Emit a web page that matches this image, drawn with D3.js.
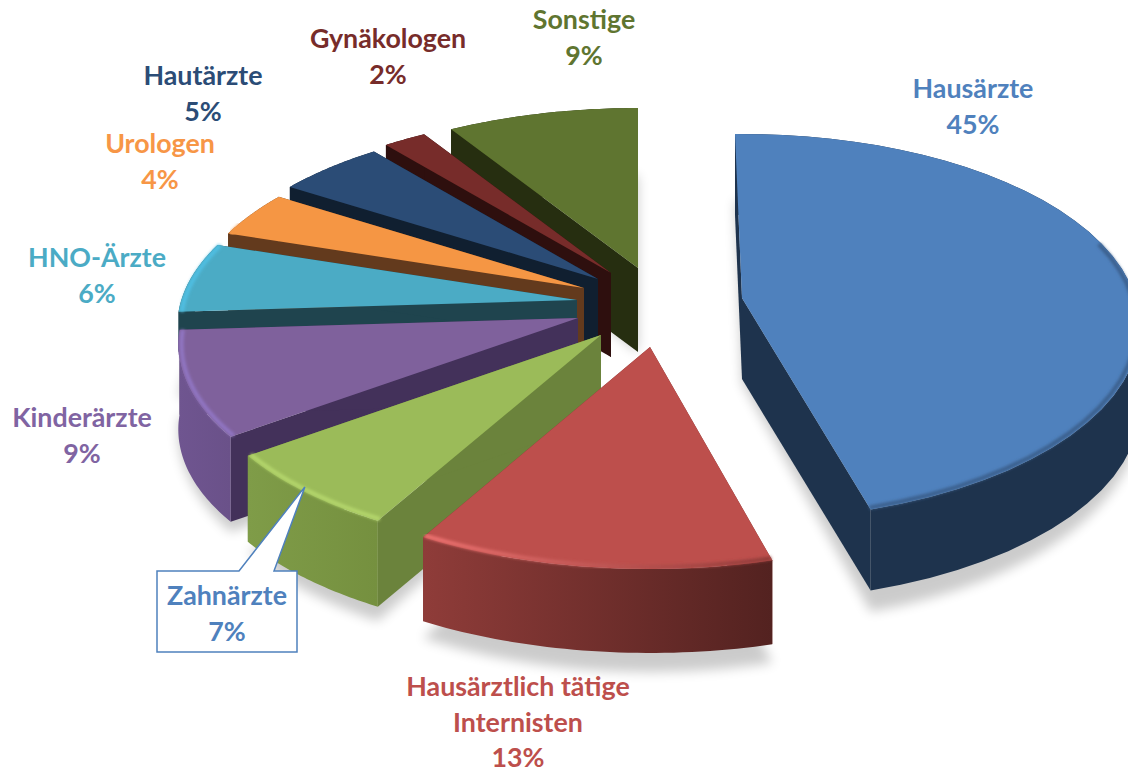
<!DOCTYPE html>
<html lang="de">
<head>
<meta charset="UTF-8"/>
<title>Arztgruppen</title>
<script src="https://d3js.org/d3.v7.min.js"></script>
<style>
	html, body { margin: 0; padding: 0; background: #fff; overflow: hidden; }
	text { font-family: Lato, "Open Sans", sans-serif; font-weight: 700; font-size: 26.8px; }
</style>
</head>
<body>
<script>
	// data, clockwise from twelve o'clock
	var categories = ["Hausärzte", "Hausärztlich tätige\nInternisten", "Zahnärzte", "Kinderärzte", "HNO-Ärzte", "Urologen", "Hautärzte", "Gynäkologen", "Sonstige"];
	var shares = [45, 13, 7, 9, 6, 4, 5, 2, 9];

	// colours
	var topColors = ["#4f81bd", "#bd4f4c", "#9bbb59", "#7f619c", "#4babc5", "#f59644", "#2b4c76", "#772c2a", "#5f7530"];
	var cutColors = ["#1e334d", "#7a3331", "#6b833c", "#43315a", "#1f444e", "#633a1d", "#101f30", "#2e0f0e", "#262e10"];
	var wallLeft = ["#1e334d", "#8f3c39", "#7f9c48", "#6f5590", "#1f444e", "#633a1d", "#101f30", "#2e0f0e", "#262e10"];
	var wallRight = ["#1e334d", "#532220", "#75903f", "#6a5189", "#1f444e", "#633a1d", "#101f30", "#2e0f0e", "#262e10"];
	var rimLeft = ["#3a5f8c", "#f07472", "#b4d66c", "#9176c4", "#4fbfe3", "#f59644", "#2b4c76", "#772c2a", "#5f7530"];
	var rimRight = ["#3a5f8c", "#8f3a38", "#b4d66c", "#9176c4", "#4fbfe3", "#f59644", "#2b4c76", "#772c2a", "#5f7530"];
	var labelColors = ["#4f81bd", "#bd4f4c", "#4f81bd", "#8064a2", "#4babc5", "#f79646", "#2b4c76", "#772c2a", "#5f7530"];

	// layout of the exploded slices, in pixels from the pie centre
	var explodeX = [142, 50, 1, -22, -23, -16, -2, 11, 38];
	var explodeY = [-2, 47, 35, 18, 0, -12, -21, -27, -32];
	var radiusScale = [1, 1, 0.98, 0.965, 0.965, 0.955, 0.965, 0.97, 0.97];
	var widthScale = [0.96, 1, 1, 1, 1, 1, 1, 1, 1];
	var startNudge = [-1.2, 2.9, 0.7, 0, 0, 0, 0, 0, 0];
	var endNudge = [1.4, 0.5, 0, 0, 0, 0, 0, 0, 0];
	var wallDepth = [81, 84, 86, 85, 40, 84, 84, 84, 84];
	var labelX = [973, 518, 227, 82, 97, 160, 203, 388, 584];
	var labelY = [89, 687, 596, 418, 258, 144, 76, 39, 20];

	var w = 1128, h = 772;
	var cx = 600, cy = 300;
	var radius = 410, flat = 193, persp = 0.15;

	var xScale = d3.scaleLinear().domain([-1, 1]).range([-radius, radius]);
	var yScale = d3.scaleLinear().domain([-1, 1]).range([-flat, flat]);

	var svg = d3.select("body").append("svg").attr("width", w).attr("height", h);
	var defs = svg.append("defs");

	defs.append("filter").attr("id", "shadow").attr("x", "-20%").attr("y", "-20%").attr("width", "140%").attr("height", "140%")
		.append("feGaussianBlur").attr("stdDeviation", 6);
	defs.append("filter").attr("id", "soft").attr("x", "-5%").attr("y", "-5%").attr("width", "110%").attr("height", "110%")
		.append("feGaussianBlur").attr("stdDeviation", 1.4);

	var slices = d3.pie().value(function(d) { return d; }).sort(null)(shares);

	// plane position on the tilted disc with a little perspective, angle clockwise from the top
	function project(i, angle, r) {
		var u = Math.sin(angle) * r * radiusScale[i], v = -Math.cos(angle) * r * radiusScale[i];
		var s = 1 + persp * v;
		return [cx + explodeX[i] + xScale(u * s * widthScale[i]), cy + explodeY[i] + yScale(v * s), v];
	}

	function rimAngles(i) {
		var a0 = slices[i].startAngle + startNudge[i] * Math.PI / 180;
		var a1 = slices[i].endAngle + endNudge[i] * Math.PI / 180;
		return d3.range(0, 41).map(function(k) { return a0 + (a1 - a0) * k / 40; });
	}

	var openLine = d3.line();
	var polygon = d3.line().curve(d3.curveLinearClosed);

	function down(p, dy) { return [p[0], p[1] + dy]; }

	// soft floor shadow first
	var shadow = svg.append("g").attr("filter", "url(#shadow)").attr("opacity", 0.2);
	slices.forEach(function(d, i) {
		var rim = rimAngles(i).map(function(a) { return project(i, a, 1); });
		var apex = project(i, 0, 0);
		var pts = [apex].concat(rim).map(function(p) { return down(p, 85 + 18 * p[2]); });
		shadow.append("path").attr("d", polygon(pts)).attr("fill", "#000");
	});

	function addGradient(id, rim, from, to) {
		var grad = defs.append("linearGradient").attr("id", id)
			.attr("gradientUnits", "userSpaceOnUse")
			.attr("x1", d3.min(rim, function(p) { return p[0]; })).attr("y1", 0)
			.attr("x2", d3.max(rim, function(p) { return p[0]; })).attr("y2", 0);
		grad.append("stop").attr("offset", 0).attr("stop-color", from);
		grad.append("stop").attr("offset", 1).attr("stop-color", to);
	}

	// back to front, so nearer slices cover the walls of the ones behind
	var order = [0, 8, 7, 6, 5, 4, 3, 2, 1];
	order.forEach(function(i) {
		var rim = rimAngles(i).map(function(a) { return project(i, a, 1); });
		var apex = project(i, 0, 0);
		var first = rim[0], last = rim[rim.length - 1];
		var depth = wallDepth[i];
		var g = svg.append("g");

		addGradient("wall" + i, rim, wallLeft[i], wallRight[i]);
		addGradient("rim" + i, rim, rimLeft[i], rimRight[i]);

		// both cut faces
		[first, last].forEach(function(p) {
			g.append("path").attr("d", polygon([apex, p, down(p, depth), down(apex, depth)]))
				.attr("fill", cutColors[i]);
		});
		// outer wall
		var bottom = rim.map(function(p) { return down(p, depth); }).reverse();
		g.append("path").attr("d", polygon(rim.concat(bottom))).attr("fill", "url(#wall" + i + ")");
		// top face
		g.append("path").attr("d", polygon([apex].concat(rim))).attr("fill", topColors[i]);
		// bevel along the front of the rim, just inside the top face
		var inner = rimAngles(i).map(function(a) { return project(i, a, 0.992); })
			.filter(function(p) { return p[2] > -0.35; });
		if (inner.length > 1) {
			g.append("path").attr("d", openLine(inner)).attr("fill", "none")
				.attr("stroke", "url(#rim" + i + ")").attr("stroke-width", 4)
				.attr("filter", "url(#soft)");
		}
	});

	// callout for Zahnärzte
	var pointer = project(2, (slices[2].startAngle + slices[2].endAngle) / 2 + 0.02, 0.985);
	var callout = [[157, 571], [239, 571], pointer, [274, 571], [297, 571], [297, 652], [157, 652]];
	svg.append("path").attr("d", polygon(callout))
		.attr("fill", "#fff").attr("stroke", "#4f81bd").attr("stroke-width", 1.5);

	// labels
	categories.forEach(function(name, i) {
		var rows = name.split("\n").concat([shares[i] + "%"]);
		svg.append("g").selectAll("text").data(rows).enter().append("text")
			.attr("x", labelX[i])
			.attr("y", function(d, k) { return labelY[i] + 35.5 * k; })
			.attr("dy", "0.34em")
			.attr("text-anchor", "middle")
			.attr("fill", labelColors[i])
			.text(function(d) { return d; });
	});
</script>
</body>
</html>
